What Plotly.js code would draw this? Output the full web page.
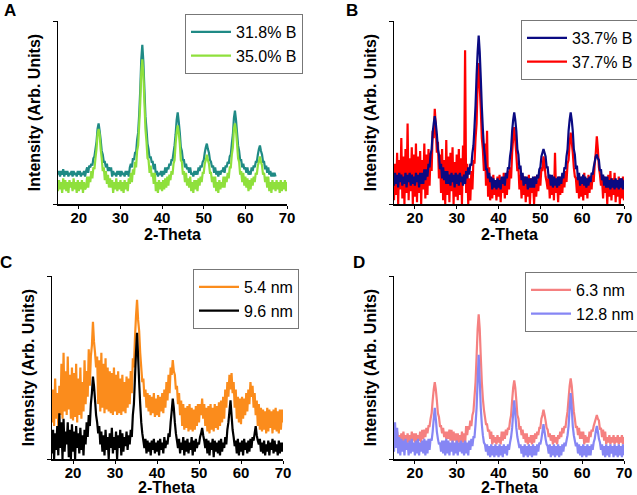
<!DOCTYPE html>
<html>
<head>
<meta charset="utf-8">
<script src="https://cdn.plot.ly/plotly-3.0.1.min.js"></script>
<style>html,body{margin:0;padding:0;background:#fff;}#chart{width:637px;height:495px;}</style>
</head>
<body>
<div id="chart"></div>
<script>
// 2-Theta sampling: start 15, step 0.25 (intensity in arbitrary units, 0-100 per panel)
const thetaStart = 15;
const thetaStep = 0.25;
const xTicks = [20, 30, 40, 50, 60, 70];
const xTitle = '2-Theta';
const yTitle = 'Intensity (Arb. Units)';

// Panel A
const seriesA1Name = '31.8% B';
const seriesA1 = [
16,18,15,18,16,19,15,18,16,18,15,17,16,18,15,18,16,17,15,18,
16,18,15,17,16,18,15,18,20,17,21,20,22,21,25,26,30,34,41,44,
40,35,29,27,23,23,20,22,18,20,18,20,15,18,16,17,15,18,16,18,
15,18,16,17,15,18,16,18,15,20,22,20,25,24,28,28,35,39,49,62,
79,87,78,63,48,41,33,30,25,26,23,23,19,22,16,18,15,17,16,18,
15,18,16,20,17,20,19,22,21,24,24,28,32,38,46,50,45,39,31,29,
24,24,20,22,19,20,17,20,16,17,15,18,16,18,16,20,18,21,20,23,
24,28,31,33,30,28,24,23,20,21,17,20,16,18,15,18,16,18,18,20,
17,21,20,23,22,26,27,33,38,47,51,46,39,32,29,24,24,20,22,19,
20,17,20,16,18,16,20,18,21,20,23,23,27,30,32,29,27,23,23,19,
21,17,20,16,18,15,17,15,17,15];
const seriesA2Name = '35.0% B';
const seriesA2 = [
7,13,8,12,6,14,8,13,7,12,6,13,9,12,7,14,8,12,6,13,
7,12,8,13,6,12,8,9,15,9,15,12,18,14,20,19,25,30,38,41,
38,30,25,18,20,13,18,11,16,9,14,9,13,6,12,8,14,7,12,8,
13,7,12,6,13,8,12,7,14,11,17,12,19,16,23,20,29,32,43,55,
72,79,71,56,41,34,25,24,17,21,15,17,11,17,7,12,6,13,8,12,
7,13,8,14,9,15,10,16,13,18,16,22,24,33,39,43,39,33,24,23,
16,18,12,17,10,14,9,15,7,12,6,13,8,13,7,14,10,15,12,17,
17,22,24,27,24,22,17,17,12,15,9,15,7,12,6,13,8,12,9,15,
9,15,12,17,14,20,20,27,31,41,44,40,33,25,23,16,18,12,17,10,
15,9,14,7,13,8,14,10,15,12,17,16,21,23,26,23,21,16,17,12,
15,9,15,7,12,6,13,8,12,7,13,8,12,6,13,7,12,8,13,7,12];

// Panel B
const seriesB1Name = '33.7% B';
const seriesB1 = [
10,17,11,16,9,17,12,16,10,15,11,17,9,16,12,17,10,16,11,15,
10,17,12,16,9,17,11,17,11,19,13,19,15,22,20,27,30,39,44,48,
44,38,30,27,19,22,14,20,13,18,11,18,11,16,10,17,12,16,9,17,
11,16,10,17,12,15,10,16,11,18,14,20,16,22,21,28,32,42,54,70,
83,92,83,69,53,41,31,26,19,19,14,17,12,15,8,14,9,13,8,14,
9,13,8,15,11,15,10,17,14,20,19,26,30,40,46,50,46,40,30,27,
19,21,13,17,10,15,11,15,8,14,9,14,9,15,9,15,11,16,14,19,
20,26,28,30,28,26,20,20,14,16,10,16,9,15,10,14,9,15,10,15,
11,17,14,20,19,26,30,40,46,50,46,40,30,27,19,21,13,17,10,15,
11,16,10,15,9,14,10,15,12,17,16,20,23,26,27,25,24,18,19,13,
16,10,15,9,15,9,13,8,14,9,13,8,14,9,13,8,14,9,14,8,13];
const seriesB2Name = '37.7% B';
const seriesB2 = [
2,22,5,28,0,24,8,36,3,26,0,30,6,44,2,25,7,31,0,27,
4,33,1,26,6,29,0,24,8,33,3,27,5,30,10,28,18,40,36,52,
42,28,34,14,27,6,30,2,24,0,35,5,26,1,28,7,31,0,23,4,
27,2,30,5,25,0,32,12,84,6,22,0,14,2,18,8,24,22,36,44,
66,77,64,52,36,30,18,33,10,40,4,20,2,14,3,16,5,13,2,15,
4,16,1,14,6,17,3,15,5,18,8,20,14,28,36,42,35,27,18,20,
8,16,3,14,5,15,1,13,4,16,0,14,6,12,0,15,4,13,7,17,
10,20,18,26,22,15,12,8,16,3,14,5,15,2,28,6,14,1,15,5,
14,6,16,9,18,12,22,24,33,39,34,28,20,15,14,6,16,3,14,4,
15,2,17,5,14,3,16,6,15,8,17,12,22,28,37,30,20,16,10,14,
3,15,6,13,0,16,4,18,2,14,5,17,1,13,4,15,0,14,3,15,2];

// Panel C
const seriesC1Name = '5.4 nm';
const seriesC1 = [
20,38,18,44,22,36,17,40,24,52,22,58,26,48,24,56,27,46,22,50,
21,47,23,52,20,44,24,50,22,42,26,54,30,48,34,60,40,56,62,75,
64,58,50,56,30,54,26,58,28,52,25,55,27,50,26,48,25,47,24,50,
26,46,24,48,25,44,24,46,26,42,25,45,28,44,30,48,36,55,50,66,
78,87,76,70,58,50,42,44,34,38,28,36,26,35,24,34,25,36,23,33,
24,35,23,34,26,36,25,38,28,42,32,46,36,50,46,54,48,46,38,40,
30,36,24,32,18,30,16,28,17,29,15,30,16,28,15,27,16,29,18,30,
20,30,24,33,22,30,18,28,15,29,14,30,16,28,15,30,17,29,16,31,
18,32,20,34,22,38,28,42,34,46,38,47,36,42,28,38,22,34,20,33,
19,34,22,33,24,36,26,38,30,42,34,40,28,36,24,32,18,30,16,28,
15,27,16,26,14,28,15,27,17,26,14,27,16,28,15,26,14,27,16,27,20];
const seriesC2Name = '9.6 nm';
const seriesC2 = [
3,16,0,14,5,18,2,25,6,20,0,22,4,15,8,20,1,16,0,19,
4,15,0,18,6,14,3,17,5,13,2,16,8,20,12,24,18,30,36,45,
40,32,24,20,14,18,8,15,4,13,2,16,5,12,0,14,6,17,3,12,
5,15,0,13,6,16,2,14,4,12,7,15,5,13,8,16,12,24,30,44,
58,69,56,42,30,20,14,10,6,11,3,10,4,9,2,10,5,11,3,9,
4,10,2,11,5,9,3,12,6,10,8,14,12,20,26,33,28,20,14,10,
6,11,3,9,5,12,2,10,4,11,3,9,5,12,2,10,4,11,6,9,
8,12,14,17,13,10,6,11,3,10,2,9,5,11,1,10,4,9,3,10,
2,11,4,9,6,12,8,16,20,26,32,24,16,12,7,10,3,11,2,9,
4,10,2,11,5,9,3,10,4,11,6,12,10,14,18,13,10,8,11,4,
9,3,10,2,8,4,10,2,9,5,11,3,10,4,8,2,10,3,9,4,9];

// Panel D
const seriesD1Name = '6.3 nm';
const seriesD1 = [
9,14,8,15,10,13,8,14,9,15,10,13,8,14,9,13,8,15,10,14,
9,14,8,13,10,15,9,16,11,16,12,17,14,18,18,22,25,32,38,42,
38,32,25,23,18,18,14,17,12,15,11,15,11,16,10,16,9,15,10,14,
8,14,9,13,8,15,9,14,8,18,13,18,16,21,18,24,26,34,42,56,
71,79,71,56,42,33,27,23,19,19,15,16,11,15,8,13,9,12,8,13,
9,12,8,15,10,15,11,16,13,17,16,21,24,32,39,43,39,32,24,22,
16,18,13,16,11,14,9,14,8,12,9,13,8,13,9,14,11,15,13,17,
17,22,24,27,24,21,17,16,12,14,10,13,8,13,9,12,8,13,11,15,
12,17,14,18,17,22,26,33,40,44,40,33,26,22,17,18,13,17,11,15,
11,15,8,13,9,12,9,15,12,16,15,18,20,22,24,22,21,16,17,12,
16,10,15,8,12,9,13,8,12,9,13,8,12,9,13,8,12,9,13,8,12];
const seriesD2Name = '12.8 nm';
const seriesD2 = [
4,20,6,17,3,12,2,11,4,10,2,11,5,9,2,10,3,11,4,9,
2,10,3,11,2,9,4,10,3,11,2,10,3,11,5,11,10,15,22,28,
22,15,11,8,9,4,10,3,10,2,11,3,10,2,9,4,10,2,9,3,
10,2,9,4,10,3,9,2,10,3,9,2,10,5,11,7,12,12,19,28,
43,57,43,28,19,13,9,8,4,8,2,7,1,8,2,7,1,8,2,7,
1,8,2,7,1,8,3,7,2,8,5,9,12,17,25,32,25,17,12,9,
6,8,3,7,1,8,2,7,1,8,2,7,1,8,2,7,2,8,4,9,
8,11,15,19,15,11,8,7,3,8,1,7,2,8,1,7,2,8,1,7,
2,8,4,9,7,10,13,18,28,36,28,18,13,10,7,9,3,8,2,7,
1,8,2,7,1,8,2,7,2,8,5,9,11,15,18,15,11,9,5,8,
2,7,1,8,2,7,1,8,3,7,1,8,2,7,1,8,2,7,1,8,2];

const FONT = 'Arial, "Liberation Sans", sans-serif';
const LW = 2.2;

function tr(y, name, color, ax, leg, rank) {
  return {type:'scatter', mode:'lines', x0:thetaStart, dx:thetaStep, y:y, name:name,
    xaxis:'x'+ax, yaxis:'y'+ax, legend:leg, legendrank:rank,
    line:{color:color, width:LW, simplify:false}, hoverinfo:'skip'};
}
const data = [
  tr(seriesA1, seriesA1Name, '#1f8a85', '', 'legend', 1),
  tr(seriesA2, seriesA2Name, '#8fe03c', '', 'legend', 2),
  tr(seriesB2, seriesB2Name, '#ff0000', '2', 'legend2', 2),
  tr(seriesB1, seriesB1Name, '#0a0a82', '2', 'legend2', 1),
  tr(seriesC1, seriesC1Name, '#fb8c1c', '3', 'legend3', 1),
  tr(seriesC2, seriesC2Name, '#000000', '3', 'legend3', 2),
  tr(seriesD1, seriesD1Name, '#f58080', '4', 'legend4', 1),
  tr(seriesD2, seriesD2Name, '#8686f4', '4', 'legend4', 2)
];

function xax(dom, anchor) {
  return {domain:dom, anchor:anchor, range:[15,70], tickvals:xTicks, ticktext:xTicks.map(String),
    ticks:'outside', ticklen:3, tickwidth:1, tickcolor:'#000', showline:true, linecolor:'#000', linewidth:1.5,
    showgrid:false, zeroline:false, ticklabelstandoff:-4,
    tickfont:{family:FONT, size:15, weight:'bold', color:'#000'}};
}
function yax(dom, anchor) {
  return {domain:dom, anchor:anchor, range:[0,100], tickvals:[0,100], showticklabels:false,
    ticks:'outside', ticklen:4, tickwidth:1, tickcolor:'#000', showline:true, linecolor:'#000', linewidth:1.5,
    showgrid:false, zeroline:false,
    title:{text:yTitle, font:{family:FONT, size:16, weight:'bold', color:'#000'}, standoff:8}};
}
function leg(x, y) {
  return {x:x, y:y, xanchor:'left', yanchor:'top', bgcolor:'#fff', bordercolor:'#777', borderwidth:1,
    font:{family:FONT, size:16, color:'#000'}, itemwidth:40, tracegroupgap:0};
}
function lab(t, x, y, size) {
  return {text:'<b>'+t+'</b>', x:x/637, y:1-y/495, xref:'paper', yref:'paper', showarrow:false,
    font:{family:FONT, size:size, color:'#000'}, xanchor:'center', yanchor:'middle'};
}
const layout = {
  width:637, height:495, margin:{l:0, r:0, t:0, b:0, autoexpand:false},
  paper_bgcolor:'#fff', plot_bgcolor:'#fff', showlegend:true,
  xaxis: xax([58/637, 287/637], 'y'), yaxis: yax([291/495, 474/495], 'x'),
  xaxis2: xax([394/637, 624/637], 'y2'), yaxis2: yax([291/495, 474/495], 'x2'),
  xaxis3: xax([52/637, 283/637], 'y3'), yaxis3: yax([36/495, 219/495], 'x3'),
  xaxis4: xax([394/637, 624/637], 'y4'), yaxis4: yax([36/495, 219/495], 'x4'),
  legend: leg(185/637, 1-14/495),
  legend2: leg(521/637, 1-20/495),
  legend3: leg(193/637, 1-269/495),
  legend4: leg(525/637, 1-272/495),
  annotations:[
    lab('A', 10, 10, 17), lab('B', 352, 10, 17), lab('C', 6, 262, 17), lab('D', 359, 262, 17),
    lab(xTitle, 172, 235, 16), lab(xTitle, 509, 235, 16), lab(xTitle, 166, 487, 16), lab(xTitle, 509, 487, 16)
  ]
};
Plotly.newPlot('chart', data, layout, {staticPlot:true, displayModeBar:false});
</script>
</body>
</html>
